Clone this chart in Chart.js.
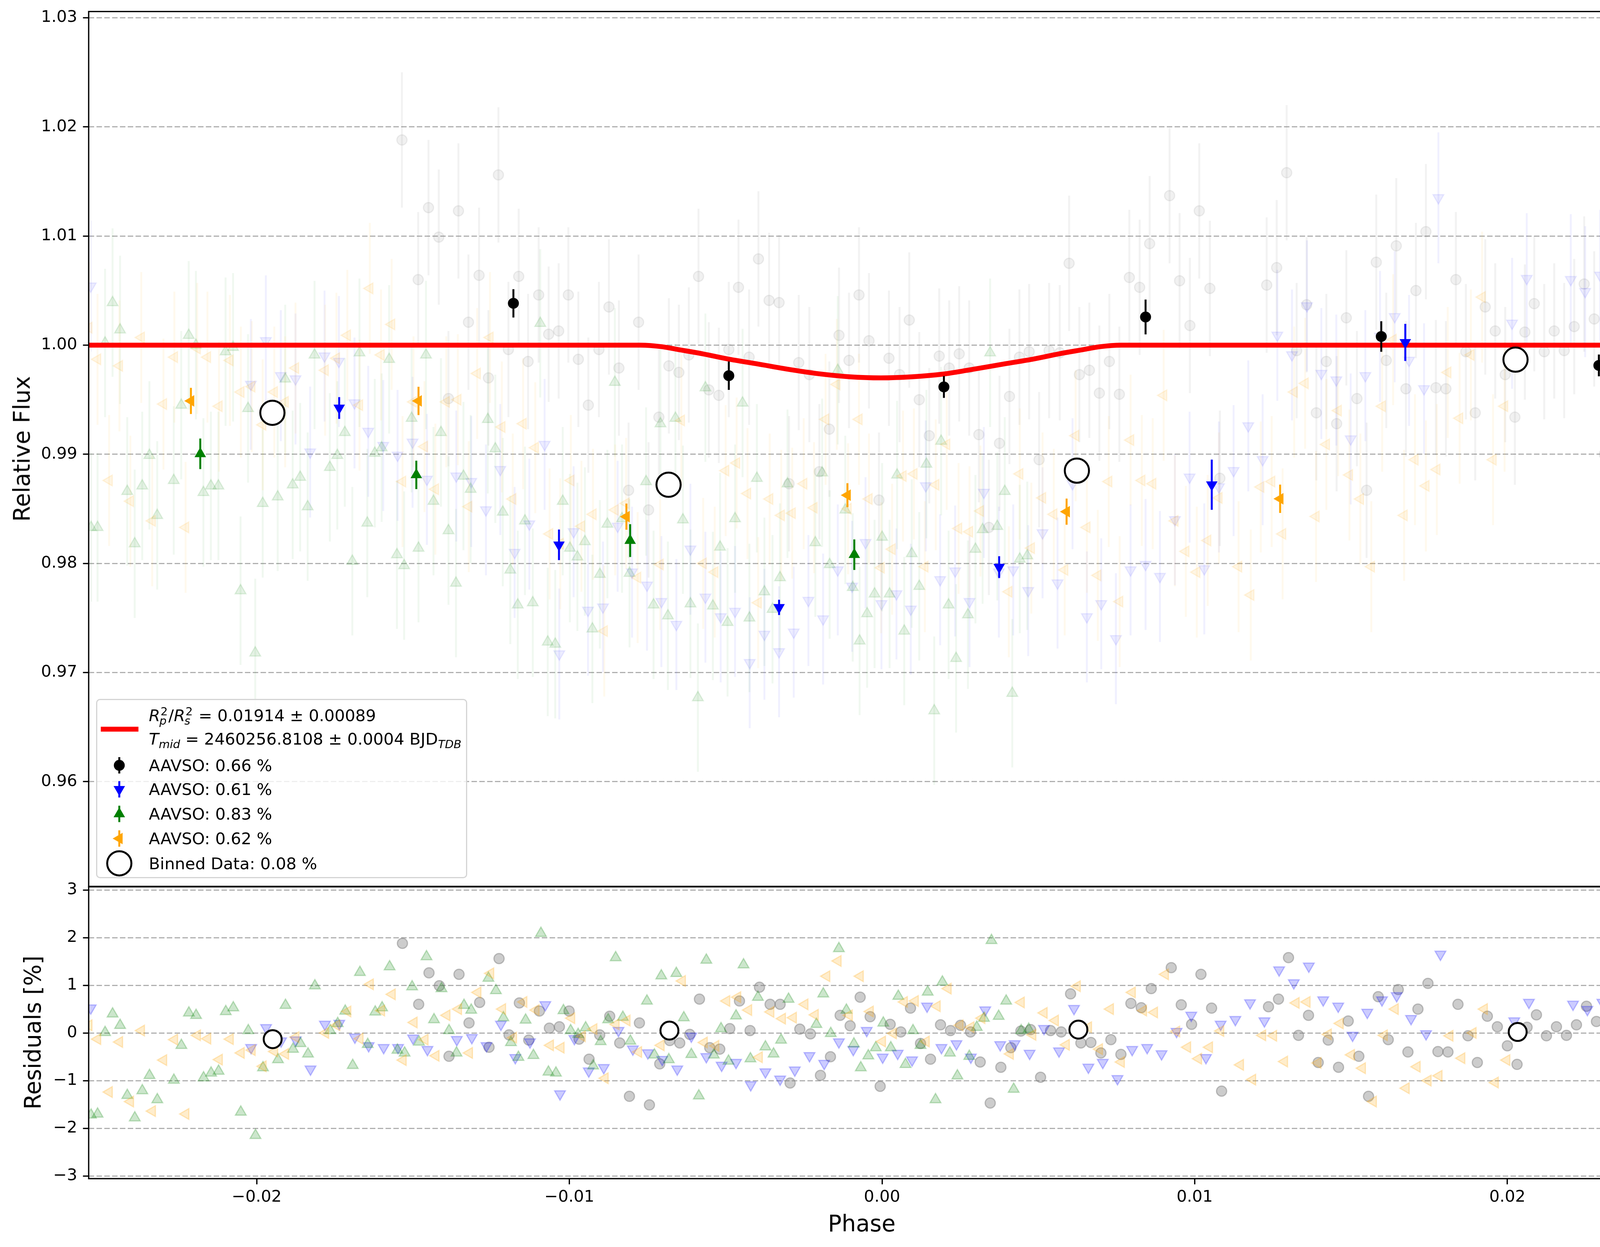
<!DOCTYPE html>
<html>
<head>
<meta charset="utf-8">
<script src="https://cdn.jsdelivr.net/npm/chart.js@4.4.0/dist/chart.umd.min.js"></script>
<style>
html,body{margin:0;padding:0;background:#fff;}
#wrap{position:relative;width:4215px;height:3192px;overflow:hidden;font-family:"DejaVu Sans",sans-serif;color:#000;background:#fff;}
#wrap canvas{position:absolute;left:0;}
.axlbl{position:absolute;font-size:58px;line-height:58px;white-space:nowrap;transform:translate(-50%,-50%);}
.axlbl.rot{transform:translate(-50%,-50%) rotate(-90deg);}
#legend{position:absolute;left:246px;top:1789px;width:950px;height:459px;box-sizing:border-box;border:3.5px solid #d4d4d4;border-radius:10px;background:rgba(255,255,255,0.8);}
#legend svg{position:absolute;left:0;top:0;}
.row{position:absolute;left:132px;height:42px;line-height:42px;font-size:41.7px;white-space:nowrap;}
.ss{display:inline-block;position:relative;width:21px;height:35px;}
.ss .sp{position:absolute;left:1px;top:-4.5px;font-size:29px;line-height:29px;font-style:normal;}
.ss .sb{position:absolute;left:-2px;top:19.5px;font-size:29px;line-height:29px;font-style:italic;}
.sub{font-size:29px;font-style:italic;position:relative;top:9px;}
</style>
</head>
<body>
<div id="wrap">
  <canvas id="main" width="4215" height="2330" style="top:-20px;width:4215px;height:2330px;"></canvas>
  <canvas id="resid" width="4215" height="963" style="top:2229px;width:4215px;height:963px;"></canvas>
  <div class="axlbl rot" style="left:56px;top:1149px;">Relative Flux</div>
  <div class="axlbl rot" style="left:84px;top:2643px;">Residuals [%]</div>
  <div class="axlbl" style="left:2206px;top:3132px;">Phase</div>
  <div id="legend">
    <svg width="944" height="452" viewBox="0 0 944 452">
      <line x1="9" y1="74.4" x2="105.4" y2="74.4" stroke="#ff0000" stroke-width="12.5"/>
      <line x1="56.4" y1="146" x2="56.4" y2="188" stroke="#000" stroke-width="5"/>
      <circle cx="56.4" cy="167.1" r="14" fill="#000"/>
      <line x1="56.4" y1="207.4" x2="56.4" y2="249.4" stroke="#0000ff" stroke-width="5"/>
      <polygon points="56.4,245.4 41.7,219.9 71.1,219.9" fill="#0000ff"/>
      <line x1="56.4" y1="270.4" x2="56.4" y2="312.4" stroke="#008000" stroke-width="5"/>
      <polygon points="56.4,274.4 41.7,299.9 71.1,299.9" fill="#008000"/>
      <line x1="56.4" y1="333.4" x2="56.4" y2="375.4" stroke="#ffa500" stroke-width="5"/>
      <polygon points="39.4,354.4 64.9,339.7 64.9,369.1" fill="#ffa500"/>
      <circle cx="56.4" cy="417.9" r="31" fill="none" stroke="#000" stroke-width="5"/>
    </svg>
    <div class="row" style="top:19px;"><i>R</i><span class="ss"><span class="sp">2</span><span class="sb">p</span></span>/<i>R</i><span class="ss"><span class="sp">2</span><span class="sb">s</span></span> = 0.01914 ± 0.00089</div>
    <div class="row" style="top:79px;"><i>T</i><span class="sub">mid</span> = 2460256.8108 ± 0.0004 BJD<span class="sub">TDB</span></div>
    <div class="row" style="top:147px;">AAVSO: 0.66 %</div>
    <div class="row" style="top:208px;">AAVSO: 0.61 %</div>
    <div class="row" style="top:271px;">AAVSO: 0.83 %</div>
    <div class="row" style="top:334px;">AAVSO: 0.62 %</div>
    <div class="row" style="top:398px;">Binned Data: 0.08 %</div>
  </div>
</div>
<script>
// ---------------- DATA ----------------
// AAVSO 0.66 % (gray / black)
const grayPhase = [
-0.01534,-0.01482,-0.01449,-0.01416,-0.01385,-0.01353,-0.01321,-0.01287,-0.01257,-0.01225,
-0.01193,-0.0116,-0.0113,-0.01096,-0.01064,-0.01032,-0.01001,-0.00969,-0.00937,-0.00903,
-0.00871,-0.00839,-0.00808,-0.00776,-0.00744,-0.00711,-0.00679,-0.00647,-0.00615,-0.00584,
-0.00551,-0.00519,-0.00487,-0.00456,-0.00422,-0.00392,-0.00358,-0.00326,-0.00294,-0.00263,
-0.00229,-0.00197,-0.00165,-0.00134,-0.00102,-0.0007,-0.00038,-0.00006,0.00026,0.0006,
0.00091,0.00123,0.00155,0.00187,0.00219,0.00251,0.00283,0.00314,0.00346,0.0038,
0.00412,0.00444,0.00475,0.00507,0.00539,0.00573,0.00603,0.00636,0.00668,0.0070,
0.00732,0.00764,0.00796,0.00829,0.00861,0.00925,0.00957,0.0099,0.0102,0.01054,
0.01086,0.01236,0.01268,0.013,0.01332,0.01364,0.01395,0.01427,0.0146,0.01491,
0.01525,0.01556,0.01587,0.01619,0.01651,0.01682,0.01714,0.01746,0.01778,0.0181,
0.01842,0.01874,0.01904,0.01936,0.01968,0.02,0.02031,0.02063,0.02093,0.02125,
0.02157,0.02189,0.02221,0.02253,0.02285,0.02317,0.02349,0.02381,0.02407];
const grayFlux = [
1.0188,1.0060,1.0126,1.0099,0.9951,1.0123,1.0021,1.0064,0.9970,1.0156,
0.9996,1.0063,0.9985,1.0046,1.0010,1.0013,1.0046,0.9987,0.9945,0.9996,
1.0035,0.9979,0.9867,1.0021,0.9849,0.9934,0.9981,0.9975,0.9991,1.0063,
0.9959,0.9954,0.9996,1.0053,0.9989,1.0079,1.0041,1.0039,0.9873,0.9984,
0.9973,0.9884,0.9923,1.0009,0.9986,1.0046,1.0004,0.9858,0.9988,0.9973,
1.0023,0.9950,0.9917,0.9990,0.9979,0.9992,0.9979,0.9918,0.9833,0.9910,
0.9953,0.9989,0.9994,0.9895,0.9995,0.9993,1.0075,0.9973,0.9977,0.9956,
0.9985,0.9955,1.0062,1.0053,1.0093,1.0137,1.0059,1.0018,1.0123,1.0052,
0.9878,1.0055,1.0071,1.0158,0.9995,1.0037,0.9938,0.9985,0.9928,1.0025,
0.9951,0.9867,1.0076,0.9986,1.0091,0.9960,1.0050,1.0104,0.9961,0.9960,
1.0060,0.9994,0.9938,1.0035,1.0013,0.9973,0.9934,1.0012,1.0038,0.9994,
1.0013,0.9995,1.0017,1.0056,1.0024,0.9900,0.9900,1.0041,1.0031];
const grayRes = [
1.88,0.60,1.26,0.99,-0.49,1.23,0.21,0.64,-0.30,1.56,
-0.04,0.63,-0.15,0.46,0.10,0.13,0.46,-0.13,-0.55,-0.04,
0.35,-0.21,-1.33,0.21,-1.51,-0.65,-0.16,-0.21,-0.03,0.71,
-0.31,-0.34,0.09,0.67,0.05,0.96,0.60,0.60,-1.05,0.08,
-0.02,-0.89,-0.50,0.37,0.15,0.75,0.34,-1.12,0.18,0.02,
0.52,-0.22,-0.55,0.17,0.05,0.16,0.02,-0.61,-1.47,-0.72,
-0.31,0.04,0.07,-0.93,0.05,0.02,0.82,-0.21,-0.20,-0.42,
-0.14,-0.45,0.62,0.53,0.93,1.37,0.59,0.18,1.23,0.52,
-1.22,0.55,0.71,1.58,-0.05,0.37,-0.62,-0.15,-0.72,0.25,
-0.49,-1.33,0.76,-0.14,0.91,-0.40,0.50,1.04,-0.39,-0.40,
0.60,-0.06,-0.62,0.35,0.13,-0.27,-0.66,0.12,0.38,-0.06,
0.13,-0.05,0.17,0.56,0.24,-1.00,-1.00,0.41,0.31];
const grayErr = 0.0062;

// AAVSO 0.83 % (green)
const greenPhase = [
-0.0253,-0.02509,-0.02485,-0.02461,-0.02437,-0.02414,-0.0239,-0.02366,-0.02343,-0.02318,
-0.02265,-0.02241,-0.02217,-0.02194,-0.0217,-0.02146,-0.02122,-0.02099,-0.02075,-0.02051,
-0.02027,-0.02004,-0.0198,-0.01932,-0.01908,-0.01884,-0.0186,-0.01836,-0.01814,-0.01765,
-0.01741,-0.01717,-0.01693,-0.0167,-0.01645,-0.01621,-0.01599,-0.01575,-0.0155,-0.01527,
-0.01503,-0.01481,-0.01457,-0.01433,-0.01409,-0.01385,-0.01361,-0.01337,-0.01314,-0.01259,
-0.01235,-0.01211,-0.01187,-0.01163,-0.0114,-0.01115,-0.01091,-0.01067,-0.01043,-0.01019,
-0.00996,-0.00972,-0.00948,-0.00924,-0.009,-0.00876,-0.00852,-0.00829,-0.00805,-0.00752,
-0.00728,-0.00706,-0.00682,-0.00658,-0.00634,-0.0061,-0.00586,-0.00562,-0.00538,-0.00515,
-0.00491,-0.00467,-0.00443,-0.00421,-0.00397,-0.00373,-0.00347,-0.00323,-0.00299,-0.0021,
-0.00188,-0.00164,-0.00138,-0.00114,-0.0009,-0.00068,-0.00044,-0.0002,0.00004,0.00028,
0.00052,0.00075,0.00099,0.00123,0.00146,0.00171,0.00193,0.00217,0.00241,0.00279,
0.00303,0.00326,0.0035,0.00373,0.00397,0.00421,0.00445,0.00469];
const greenFlux = [
0.9833,0.9833,1.0002,1.0039,1.0014,0.9866,0.9818,0.9871,0.9899,0.9844,
0.9876,0.9945,1.0009,1.0000,0.9865,0.9871,0.9871,0.9994,0.9998,0.9775,
0.9942,0.9718,0.9855,0.9861,0.9969,0.9872,0.9879,0.9852,0.9991,0.9888,
0.9899,0.9920,0.9802,0.9993,0.9837,0.9901,0.9906,0.9987,0.9808,0.9798,
0.9933,0.9814,0.9991,0.9857,0.9920,0.9830,0.9782,0.9880,0.9868,0.9932,
0.9905,0.9847,0.9794,0.9762,0.9839,0.9764,1.0020,0.9728,0.9726,0.9857,
0.9814,0.9806,0.9820,0.9740,0.9790,0.9836,0.9966,0.9841,0.9791,0.9875,
0.9762,0.9928,0.9752,0.9933,0.9840,0.9763,0.9677,0.9961,0.9761,0.9815,
0.9746,0.9841,0.9947,0.9750,0.9878,0.9774,0.9758,0.9787,0.9873,0.9819,
0.9883,0.9799,0.9977,0.9849,0.9778,0.9729,0.9754,0.9772,0.9824,0.9772,
0.9881,0.9738,0.9809,0.9779,0.9891,0.9665,0.9912,0.9762,0.9713,0.9753,
0.9813,0.9831,0.9993,0.9834,0.9866,0.9681,0.9804,0.9807];
const greenRes = [
-1.72,-1.70,0.01,0.40,0.16,-1.31,-1.78,-1.21,-0.89,-1.40,
-0.99,-0.26,0.42,0.37,-0.94,-0.84,-0.80,0.45,0.53,-1.66,
0.05,-2.15,-0.73,-0.56,0.58,-0.34,-0.22,-0.44,0.99,0.05,
0.20,0.46,-0.68,1.27,-0.24,0.44,0.53,1.39,-0.36,-0.42,
0.97,-0.19,1.60,0.28,0.93,0.05,-0.42,0.58,0.48,1.15,
0.89,0.32,-0.20,-0.51,0.27,-0.47,2.09,-0.82,-0.84,0.47,
0.05,-0.03,0.11,-0.69,-0.18,0.28,1.58,0.33,-0.17,0.67,
-0.46,1.20,-0.56,1.25,0.32,-0.45,-1.32,1.53,-0.46,0.09,
-0.59,0.36,1.43,-0.54,0.75,-0.29,-0.44,-0.15,0.71,0.18,
0.82,-0.01,1.77,0.48,-0.23,-0.73,-0.48,-0.31,0.21,-0.31,
0.77,-0.66,0.05,-0.26,0.86,-1.40,1.07,-0.42,-0.90,-0.49,
0.12,0.31,1.94,0.35,0.67,-1.18,0.05,0.08];
const greenErr = 0.0068;

// AAVSO 0.61 % (blue)
const bluePhase = [
-0.02531,-0.02018,-0.0197,-0.01922,-0.01875,-0.01828,-0.01782,-0.01736,-0.01686,-0.01642,
-0.01594,-0.01548,-0.015,-0.01454,-0.0136,-0.01312,-0.01265,-0.01219,-0.01173,-0.01126,
-0.01077,-0.0103,-0.00984,-0.00938,-0.0089,-0.00843,-0.00797,-0.00749,-0.00703,-0.00655,
-0.0061,-0.00562,-0.00513,-0.00467,-0.0042,-0.00373,-0.00326,-0.00279,-0.00232,-0.00185,
-0.00138,-0.00092,-0.00049,0.00002,0.0005,0.00096,0.00144,0.0019,0.00238,0.00284,
0.0033,0.00378,0.00424,0.00472,0.00518,0.00566,0.00614,0.0066,0.00706,0.00753,
0.008,0.00848,0.00894,0.00942,0.00989,0.01036,0.01083,0.0113,0.01177,0.01223,
0.0127,0.01317,0.01365,0.01411,0.01459,0.01505,0.01552,0.01599,0.01646,0.01692,
0.0174,0.01786,0.02022,0.02069,0.0221,0.02256,0.02304,0.02352,0.02398];
const blueFlux = [
1.0054,0.9964,1.0004,0.9972,0.9969,0.9902,0.9990,0.9985,0.9947,0.9921,
0.9908,0.9899,0.9911,0.9877,0.9880,0.9875,0.9849,0.9886,0.9810,0.9836,
0.9909,0.9717,0.9829,0.9757,0.9760,0.9834,0.9792,0.9780,0.9765,0.9744,
0.9813,0.9769,0.9751,0.9756,0.9709,0.9735,0.9719,0.9737,0.9766,0.9749,
0.9794,0.9779,0.9819,0.9763,0.9772,0.9758,0.9871,0.9785,0.9793,0.9765,
0.9865,0.9792,0.9794,0.9775,0.9828,0.9782,0.9873,0.9751,0.9763,0.9731,
0.9794,0.9799,0.9788,0.9840,0.9879,0.9795,0.9870,0.9885,0.9926,0.9895,
1.0009,0.9991,1.0036,0.9974,0.9968,0.9914,0.9972,1.0008,1.0026,0.9986,
0.9960,1.0135,1.0020,1.0061,1.0060,1.0049,1.0064,1.0114,1.0127];
const blueRes = [
0.52,-0.31,0.11,-0.17,-0.15,-0.76,0.18,0.20,-0.09,-0.27,
-0.31,-0.31,-0.11,-0.35,-0.14,-0.10,-0.27,0.18,-0.52,-0.19,
0.59,-1.28,-0.12,-0.80,-0.73,0.05,-0.34,-0.42,-0.56,-0.76,
-0.07,-0.50,-0.68,-0.62,-1.09,-0.82,-0.97,-0.78,-0.48,-0.64,
-0.19,-0.35,0.05,-0.51,-0.43,-0.57,0.56,-0.31,-0.23,-0.51,
0.48,-0.25,-0.23,-0.43,0.09,-0.38,0.51,-0.72,-0.62,-0.96,
-0.35,-0.31,-0.44,0.03,0.37,-0.52,0.18,0.28,0.63,0.25,
1.32,1.05,1.40,0.69,0.56,-0.05,0.43,0.69,0.78,0.30,
-0.02,1.65,0.25,0.64,0.60,0.49,0.64,1.14,1.27];
const blueErr = 0.0060;

// AAVSO 0.62 % (orange)
const orangePhase = [
-0.02537,-0.02509,-0.02472,-0.02439,-0.02404,-0.02369,-0.02334,-0.02298,-0.02263,-0.02227,
-0.0219,-0.02157,-0.0212,-0.02085,-0.0205,-0.02015,-0.0198,-0.01943,-0.01908,-0.01875,
-0.0178,-0.01744,-0.01709,-0.0167,-0.01637,-0.01601,-0.01567,-0.01532,-0.01497,-0.01462,
-0.01427,-0.01392,-0.01355,-0.0132,-0.01293,-0.01252,-0.01214,-0.01179,-0.01146,-0.01107,
-0.01061,-0.01027,-0.00993,-0.00959,-0.00922,-0.00886,-0.00851,-0.00816,-0.00779,-0.00707,
-0.00639,-0.00569,-0.00532,-0.00497,-0.00462,-0.00427,-0.00393,-0.00356,-0.00319,-0.00284,
-0.00247,-0.00214,-0.00177,-0.00141,-0.00105,-0.0007,-0.00038,0.00001,0.00036,0.00071,
0.00106,0.00141,0.00176,0.00211,0.00249,0.00284,0.00319,0.0041,0.00445,0.00482,
0.00518,0.00554,0.00589,0.00624,0.0066,0.00695,0.0073,0.00765,0.008,0.00836,
0.00871,0.00906,0.00942,0.00977,0.01012,0.01047,0.01083,0.01146,0.01185,0.01217,
0.01252,0.01287,0.01324,0.01359,0.01394,0.01427,0.01465,0.01501,0.01536,0.01571,
0.01606,0.01641,0.01676,0.01711,0.01746,0.01781,0.01816,0.01854,0.0189,0.01926,
0.01961,0.01998];
const orangeFlux = [
1.0016,0.9987,0.9876,0.9981,0.9857,1.0007,0.9839,0.9946,0.9989,0.9833,
0.9997,0.9989,0.9944,0.9986,0.9957,0.9962,0.9927,0.9957,0.9948,0.9979,
0.9977,0.9988,1.0009,0.9945,1.0052,0.9991,1.0019,0.9875,0.9948,0.9907,
0.9868,0.9948,0.9950,0.9852,0.9974,1.0007,0.9925,0.9859,0.9928,0.9906,
0.9827,0.9818,0.9876,0.9834,0.9845,0.9738,0.9849,0.9855,0.9787,0.9799,
0.9931,0.9800,0.9792,0.9885,0.9892,0.9864,0.9764,0.9859,0.9844,0.9846,
0.9873,0.9851,0.9932,0.9964,0.9850,0.9932,0.9859,0.9796,0.9813,0.9880,
0.9882,0.9797,0.9872,0.9909,0.9832,0.9829,0.9848,0.9774,0.9882,0.9814,
0.9860,0.9845,0.9794,0.9917,0.9833,0.9789,0.9875,0.9765,0.9913,0.9876,
0.9873,0.9954,0.9839,0.9811,0.9792,0.9821,0.9860,0.9797,0.9771,0.9870,
0.9875,0.9827,0.9957,0.9965,0.9843,0.9909,0.9940,0.9881,0.9859,0.9797,
0.9944,1.0005,0.9844,0.9895,0.9871,0.9886,0.9975,0.9933,0.9991,1.0044,
0.9895,0.9944];
const orangeRes = [
0.16,-0.13,-1.24,-0.19,-1.44,0.05,-1.64,-0.57,-0.14,-1.70,
-0.05,-0.12,-0.56,-0.13,-0.42,-0.36,-0.70,-0.39,-0.44,-0.09,
0.00,0.16,0.45,-0.12,1.02,0.47,0.81,-0.57,0.22,-0.14,
-0.48,0.37,0.50,-0.42,0.85,1.25,0.50,-0.10,0.65,0.48,
-0.26,-0.31,0.31,-0.07,0.08,-0.95,0.18,0.26,-0.40,-0.26,
1.09,-0.20,-0.27,0.67,0.75,0.48,-0.51,0.44,0.30,0.32,
0.60,0.38,1.19,1.51,0.37,1.19,0.45,-0.18,-0.01,0.65,
0.67,-0.18,0.56,0.93,0.16,0.12,0.31,-0.44,0.64,-0.04,
0.42,0.26,-0.25,0.98,0.12,-0.34,0.50,-0.61,0.85,0.47,
0.43,1.23,0.03,-0.30,-0.54,-0.30,0.04,-0.67,-0.98,-0.05,
-0.06,-0.60,0.63,0.65,-0.63,-0.03,0.20,-0.46,-0.74,-1.44,
-0.05,0.50,-1.16,-0.71,-1.00,-0.90,-0.06,-0.53,0.00,0.50,
-1.04,-0.57];
const orangeErr = 0.0060;

// Binned points per dataset (solid markers)
const blackBinPhase = [-0.01177,-0.00487,0.00202,0.00848,0.01603,0.0230];
const blackBinFlux  = [1.00383,0.99720,0.99617,1.00258,1.00079,0.99814];
const blackBinErr   = [0.0013,0.0013,0.0010,0.0016,0.0014,0.0010];
const blueBinPhase  = [-0.01735,-0.01031,-0.00326,0.00379,0.0106,0.0168];
const blueBinFlux   = [0.99424,0.98170,0.97597,0.97966,0.98721,1.00025];
const blueBinErr    = [0.0010,0.0014,0.0007,0.0010,0.0023,0.0017];
const greenBinPhase = [-0.0218,-0.01488,-0.00803,-0.00085];
const greenBinFlux  = [0.99004,0.98811,0.98209,0.98080];
const greenBinErr   = [0.0014,0.0013,0.0015,0.0014];
const orangeBinPhase= [-0.0221,-0.01481,-0.00815,-0.00107,0.00595,0.01279];
const orangeBinFlux = [0.99489,0.99489,0.98428,0.98625,0.98474,0.98592];
const orangeBinErr  = [0.0012,0.0013,0.0012,0.0011,0.0012,0.0013];

// Binned data (all), open circles
const allBinPhase = [-0.01949,-0.0068,0.00628,0.02033];
const allBinFlux  = [0.9938,0.98721,0.9885,0.99867];
const allBinRes   = [-0.13,0.05,0.07,0.02];

// Transit model
const modelPhase = [-0.0254,-0.0077,-0.0070,-0.0065,-0.0057,-0.0049,-0.0040,-0.0028,-0.0020,-0.0010,0,
                    0.0010,0.0020,0.0028,0.0040,0.0049,0.0057,0.0065,0.0070,0.0077,0.0241];
const modelFlux  = [1,1,0.99985,0.9996,0.9992,0.99873,0.9983,0.99771,0.99738,0.9971,0.9970,
                    0.9971,0.99735,0.99771,0.9983,0.99873,0.9992,0.9996,0.99985,1,1];

// Axis ticks
const xTicks = [-0.02,-0.01,0.00,0.01,0.02];
const fluxTicks = [0.96,0.97,0.98,0.99,1.00,1.01,1.02,1.03];
const resTicks = [-3,-2,-1,0,1,2,3];

// ---------------- CHART SETUP ----------------
const X_MIN = -0.025375, X_MAX = 0.024075;
const FONT = {family: 'DejaVu Sans', size: 41.7};
const pts = (xs, ys) => xs.map((x, i) => ({x: x, y: ys[i]}));
const minus = v => (v < 0 ? '\u2212' : '') ;

const errorBars = {
  id: 'errorBars',
  beforeDatasetDraw(chart, args) {
    const ds = chart.data.datasets[args.index];
    if (ds.errY === undefined) return;
    const xs = chart.scales[args.meta.xAxisID], ys = chart.scales[args.meta.yAxisID];
    const a = chart.chartArea, ctx = chart.ctx;
    ctx.save();
    ctx.beginPath(); ctx.rect(a.left, a.top, a.right - a.left, a.bottom - a.top); ctx.clip();
    ctx.strokeStyle = ds.errColor; ctx.lineWidth = ds.errWidth; ctx.lineCap = 'butt';
    ds.data.forEach((p, i) => {
      const e = Array.isArray(ds.errY) ? ds.errY[i] : ds.errY;
      const x = xs.getPixelForValue(p.x);
      ctx.beginPath();
      ctx.moveTo(x, ys.getPixelForValue(p.y - e));
      ctx.lineTo(x, ys.getPixelForValue(p.y + e));
      ctx.stroke();
    });
    ctx.restore();
  }
};
const frame = {
  id: 'frame',
  afterDraw(chart) {
    const a = chart.chartArea, ctx = chart.ctx;
    ctx.save(); ctx.strokeStyle = '#000'; ctx.lineWidth = 3.3;
    ctx.strokeRect(a.left, a.top, a.right - a.left, a.bottom - a.top);
    ctx.restore();
  }
};

function yAxis(min, max, step, fmt) {
  return {
    type: 'linear', min: min, max: max,
    afterFit: s => { s.width = 227; },
    afterBuildTicks: s => { s.ticks = (step === 1 ? resTicks : fluxTicks).map(v => ({value: v})); },
    ticks: {stepSize: step, includeBounds: false, autoSkip: false, padding: 14.6, color: '#000', font: FONT, callback: fmt},
    grid: {color: '#b0b0b0', lineWidth: 3, drawTicks: true, tickLength: 14.6, tickColor: '#000', tickWidth: 3.3, tickBorderDash: []},
    border: {display: false, dash: [14, 6]}
  };
}

function faint(label, xs, ys, style, rot, r, rgb, a, ea, err, order) {
  return {
    label: label, data: pts(xs, ys), pointStyle: style, rotation: rot, pointRadius: r,
    backgroundColor: 'rgba(' + rgb + ',' + a + ')', borderColor: 'rgba(' + rgb + ',' + (a * 1.2) + ')', borderWidth: 3,
    errY: err, errColor: 'rgba(' + rgb + ',' + ea + ')', errWidth: 5, order: order, clip: 0, showLine: false
  };
}
function solid(label, xs, ys, errs, style, rot, r, color, order) {
  return {
    label: label, data: pts(xs, ys), pointStyle: style, rotation: rot, pointRadius: r,
    backgroundColor: color, borderColor: color, borderWidth: 0,
    errY: errs, errColor: color, errWidth: 5, order: order, clip: 0, showLine: false
  };
}

const commonOpts = {
  responsive: false, animation: false, devicePixelRatio: 1, events: [],
  plugins: {legend: {display: false}, tooltip: {enabled: false}}
};

new Chart(document.getElementById('main'), {
  type: 'scatter',
  data: {datasets: [
    faint('AAVSO 0.66', grayPhase, grayFlux, 'circle', 0, 13, '128,128,128', 0.11, 0.1, grayErr, 20),
    faint('AAVSO 0.61', bluePhase, blueFlux, 'triangle', 180, 16, '0,0,255', 0.07, 0.06, blueErr, 19),
    faint('AAVSO 0.83', greenPhase, greenFlux, 'triangle', 0, 16, '0,128,0', 0.1, 0.06, greenErr, 18),
    faint('AAVSO 0.62', orangePhase, orangeFlux, 'triangle', 270, 16, '255,165,0', 0.1, 0.07, orangeErr, 17),
    {label: 'model', data: pts(modelPhase, modelFlux), showLine: true, pointRadius: 0, borderColor: '#ff0000',
     borderWidth: 12.5, cubicInterpolationMode: 'monotone', order: 10, clip: 0, fill: false},
    solid('bin 0.66', blackBinPhase, blackBinFlux, blackBinErr, 'circle', 0, 14, '#000000', 5),
    solid('bin 0.61', blueBinPhase, blueBinFlux, blueBinErr, 'triangle', 180, 17, '#0000ff', 4),
    solid('bin 0.83', greenBinPhase, greenBinFlux, greenBinErr, 'triangle', 0, 17, '#008000', 3),
    solid('bin 0.62', orangeBinPhase, orangeBinFlux, orangeBinErr, 'triangle', 270, 17, '#ffa500', 2),
    {label: 'Binned', data: pts(allBinPhase, allBinFlux), pointStyle: 'circle', pointRadius: 31,
     backgroundColor: '#ffffff', borderColor: '#000000', borderWidth: 5, order: 1, clip: 0, showLine: false}
  ]},
  options: Object.assign({}, commonOpts, {
    layout: {padding: {top: 49.5, right: 30, bottom: 41, left: 0}},
    scales: {
      x: {type: 'linear', min: X_MIN, max: X_MAX, display: false},
      y: yAxis(0.9504, 1.03057, 0.01, v => v.toFixed(2))
    }
  }),
  plugins: [errorBars, frame]
});

new Chart(document.getElementById('resid'), {
  type: 'scatter',
  data: {datasets: [
    faint('AAVSO 0.66', grayPhase, grayRes, 'circle', 0, 13, '128,128,128', 0.4, 0, undefined, 20),
    faint('AAVSO 0.61', bluePhase, blueRes, 'triangle', 180, 16, '0,0,255', 0.2, 0, undefined, 19),
    faint('AAVSO 0.83', greenPhase, greenRes, 'triangle', 0, 16, '0,128,0', 0.2, 0, undefined, 18),
    faint('AAVSO 0.62', orangePhase, orangeRes, 'triangle', 270, 16, '255,165,0', 0.2, 0, undefined, 17),
    {label: 'Binned', data: pts(allBinPhase, allBinRes), pointStyle: 'circle', pointRadius: 23,
     backgroundColor: '#ffffff', borderColor: '#000000', borderWidth: 5, order: 1, clip: 0, showLine: false}
  ]},
  options: Object.assign({}, commonOpts, {
    layout: {padding: {top: 41, right: 30, bottom: 0, left: 0}},
    scales: {
      x: {
        type: 'linear', min: X_MIN, max: X_MAX,
        afterFit: s => { s.height = 175; },
        afterBuildTicks: s => { s.ticks = xTicks.map(v => ({value: v})); },
        ticks: {stepSize: 0.01, includeBounds: false, autoSkip: false, maxRotation: 0, padding: 9, color: '#000', font: FONT,
                callback: v => minus(v) + Math.abs(v).toFixed(2)},
        grid: {drawOnChartArea: false, drawTicks: true, tickLength: 14.6, tickColor: '#000', tickWidth: 3.3, color: '#000'},
        border: {display: false}
      },
      y: yAxis(-3.057, 3.066, 1, v => minus(v) + Math.abs(v).toFixed(0))
    }
  }),
  plugins: [errorBars, frame]
});
</script>
</body>
</html>
